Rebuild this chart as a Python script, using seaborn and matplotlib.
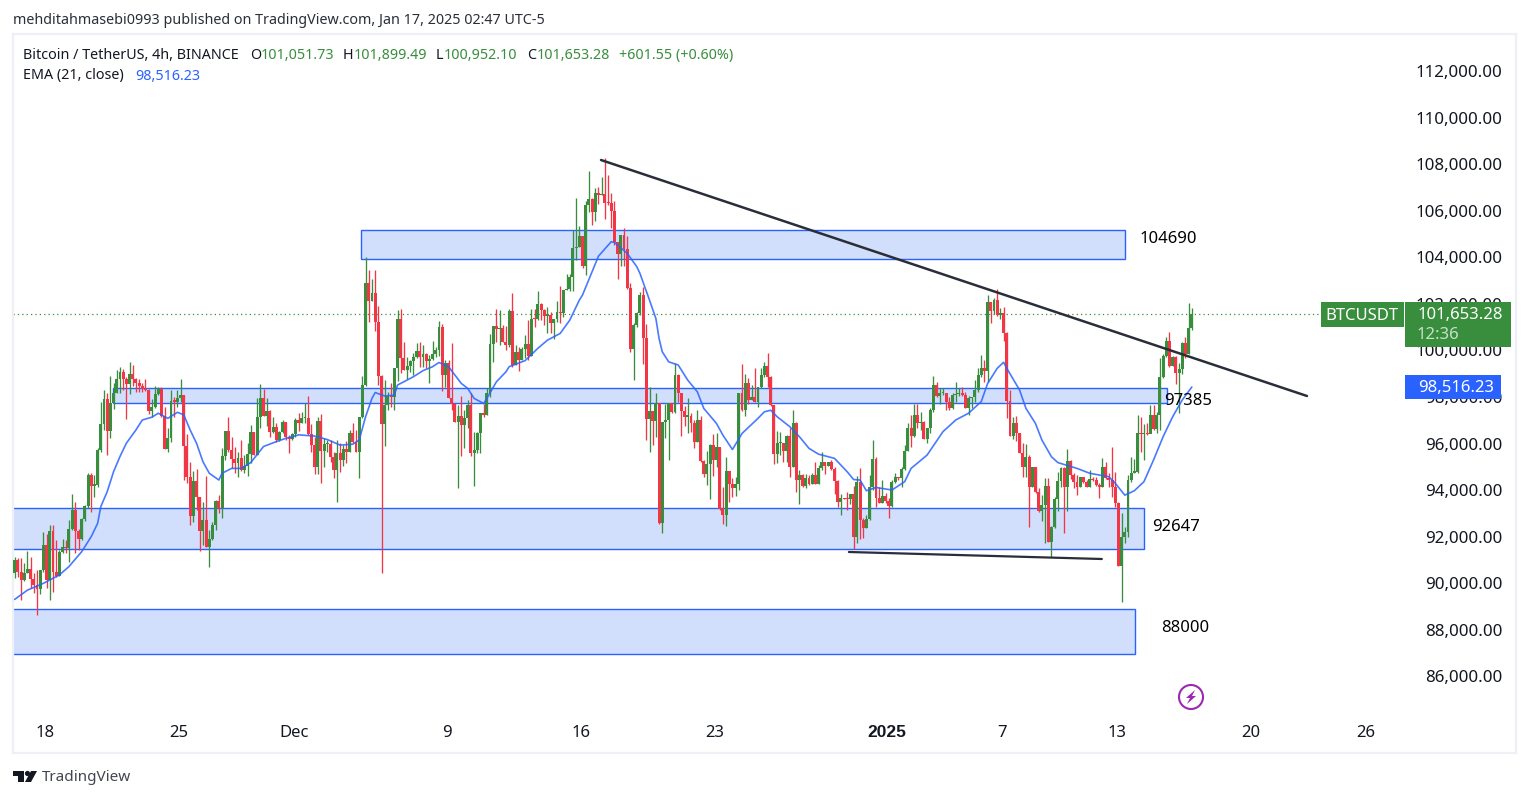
import numpy as np
import pandas as pd
import seaborn as sns
import matplotlib
matplotlib.use("Agg")
import matplotlib.pyplot as plt
from matplotlib.patches import Rectangle, Circle, Polygon
from matplotlib.transforms import Affine2D, ScaledTranslation

# ---- data (thousand USD, 4h bars) ----
first_open_k = 90.51
close_k = [
91.08,90.58,90.22,90.54,90.7,90.25,90.01,89.84,90.65,91.73,
90.22,92.33,90.58,90.4,91.41,91.63,91.6,92.4,93.23,92.35,
91.99,92.83,93.4,94.74,94.28,94.31,95.81,96.93,98.0,96.64,
97.82,98.28,98.86,99.16,98.85,98.65,99.08,98.86,98.68,98.56,
98.42,98.39,97.49,97.65,98.2,98.45,97.25,95.85,96.33,97.92,
97.89,98.03,98.18,95.98,94.67,92.99,94.48,93.78,92.35,92.8,
91.63,91.99,92.57,93.62,93.3,95.55,96.63,95.81,95.43,95.27,
95.45,94.95,95.12,95.63,96.57,95.6,97.22,98.03,97.29,97.49,
96.6,96.79,96.24,96.6,97.03,96.39,96.28,96.49,97.1,96.99,
97.17,97.17,96.49,96.02,95.09,97.05,95.78,96.05,96.05,95.52,
94.95,95.66,95.38,95.85,95.73,96.56,96.16,95.73,97.21,98.6,
102.97,102.21,102.54,101.29,99.0,96.92,97.74,98.13,98.07,99.32,
101.44,99.75,99.24,99.42,99.63,99.79,100.06,99.82,99.93,99.65,
99.7,99.93,100.1,101.11,99.03,99.57,98.05,97.78,97.02,97.27,
96.88,97.17,97.74,95.66,95.83,96.56,97.38,97.31,98.28,100.35,
101.14,101.0,101.06,100.46,100.32,101.78,99.46,100.0,99.67,100.13,
100.36,99.85,101.46,101.44,102.08,101.82,101.58,101.61,101.28,101.42,
101.72,101.68,102.68,102.71,103.23,104.47,104.55,105.0,103.71,106.34,
106.58,106.05,106.84,106.77,106.79,106.44,106.41,106.09,104.73,104.23,
105.05,104.43,102.78,100.15,101.18,101.68,102.47,100.63,97.14,97.48,
97.07,97.81,92.68,97.0,97.12,97.81,97.45,99.03,98.24,97.48,
97.24,97.28,96.95,96.14,97.09,95.35,94.77,95.2,96.02,95.38,
95.92,93.26,93.01,94.9,94.33,94.19,94.37,98.28,97.52,98.67,
97.98,98.08,97.88,98.5,99.03,99.42,98.96,97.74,95.63,96.09,
96.12,95.76,96.42,95.09,96.95,94.52,94.73,94.26,94.59,94.37,
94.73,94.37,95.02,95.28,95.12,95.28,95.0,94.49,93.56,93.73,
93.7,93.69,93.9,92.08,94.44,92.8,92.47,92.84,94.2,95.41,
93.76,93.55,93.83,93.63,93.4,94.43,94.66,94.59,95.0,95.78,
96.74,96.41,97.31,96.95,97.03,96.3,96.74,97.53,98.59,98.13,
98.24,98.26,97.89,97.63,98.17,98.2,98.24,98.17,97.63,98.03,
98.07,98.39,99.03,99.32,99.22,102.17,101.78,102.26,101.61,101.68,
100.82,97.93,96.41,96.95,96.53,95.67,95.09,95.52,94.23,95.06,
94.02,93.2,93.45,94.26,91.87,92.52,93.7,94.48,95.02,94.23,
95.34,94.73,94.45,94.23,94.66,94.45,94.23,94.56,94.52,94.3,
94.23,95.06,94.62,94.52,94.23,93.55,90.84,92.09,92.3,94.52,
94.83,94.85,96.53,96.48,96.53,96.5,97.31,96.71,97.31,98.96,
99.85,100.49,99.42,99.82,99.1,99.29,100.42,99.94,101.04,101.653,
]
high_k = [
91.23,91.16,91.16,90.94,91.49,91.2,90.51,90.65,90.65,92.3,
92.2,92.59,92.59,91.94,91.51,91.99,91.94,92.8,93.92,93.56,
92.4,92.87,93.45,94.84,94.84,94.74,95.88,97.86,98.39,98.28,
98.99,98.71,99.25,99.37,99.28,98.96,99.58,99.47,98.91,98.88,
98.68,98.85,98.42,97.99,98.56,98.53,98.5,97.67,96.76,98.39,
98.08,98.39,98.86,98.18,96.5,95.28,94.91,94.98,93.78,93.56,
94.69,92.37,92.73,93.66,93.88,95.88,96.63,97.22,96.39,95.93,
95.74,96.24,95.6,96.1,96.89,96.6,98.03,98.65,98.43,98.03,
97.53,97.22,96.96,96.64,97.1,97.03,96.46,96.53,97.17,97.39,
97.45,97.81,98.13,96.92,96.38,97.21,97.34,96.31,96.26,96.26,
95.73,96.24,96.09,96.02,96.21,96.69,96.95,96.67,97.24,98.99,
104.09,103.54,103.14,103.54,102.0,99.03,98.81,98.31,98.71,99.32,
101.82,101.89,100.43,99.82,99.67,99.96,100.42,100.43,100.32,99.99,
99.89,100.49,100.25,101.35,101.22,99.67,99.67,100.39,97.84,97.74,
98.13,97.52,97.95,98.27,96.59,96.59,97.41,97.78,98.46,100.78,
101.14,101.89,101.82,101.18,101.14,101.85,102.54,100.32,100.25,100.22,
100.75,101.39,101.89,101.87,102.64,102.11,101.85,101.97,101.75,101.46,
102.21,102.85,102.68,103.37,103.37,105.26,106.65,105.43,105.0,106.52,
107.8,106.65,107.08,107.12,107.55,108.34,107.63,106.87,106.52,104.76,
105.05,105.33,105.0,102.97,101.25,101.72,102.58,102.8,101.22,98.5,
97.5,98.24,97.85,97.02,97.78,97.81,97.81,99.53,99.07,98.27,
97.71,98.03,97.38,97.09,97.52,97.28,95.38,95.78,96.06,96.49,
96.52,95.95,94.23,95.49,94.9,94.59,94.63,98.28,99.5,99.07,
98.89,98.6,99.32,98.53,99.32,99.6,99.96,98.99,97.74,96.64,
96.59,96.09,96.45,96.74,97.52,97.02,94.95,94.8,94.77,94.73,
94.83,95.3,95.16,95.71,95.3,95.3,95.38,95.09,94.54,93.94,
93.73,94.01,93.94,94.26,94.69,95.02,92.9,93.01,94.73,96.24,
95.52,94.2,94.52,93.95,93.73,94.52,94.84,94.66,95.09,96.02,
96.95,97.31,97.79,97.79,97.46,97.06,96.77,97.6,98.99,98.75,
98.46,98.46,98.27,98.1,98.24,98.75,98.46,98.5,98.29,98.13,
98.1,98.82,99.32,99.89,99.68,102.47,102.19,102.33,102.72,101.9,
101.97,100.9,98.39,97.24,97.27,96.53,96.1,96.07,95.59,95.09,
95.09,94.16,93.87,94.59,94.59,92.54,93.8,94.88,95.09,95.06,
95.84,95.38,94.81,94.73,94.66,94.66,94.52,94.95,94.66,94.66,
94.38,95.45,95.31,94.81,95.95,94.88,93.59,93.09,92.51,94.73,
95.52,95.41,97.31,97.24,96.91,96.95,97.74,97.74,97.46,99.75,
99.94,100.68,100.9,99.85,99.85,99.53,100.47,100.68,102.14,101.899,
]
low_k = [
90.3,90.34,89.36,90.2,90.51,89.87,89.65,88.72,89.62,90.58,
89.87,89.36,89.69,90.34,90.4,91.37,91.37,91.01,92.37,91.37,
91.51,91.94,92.77,93.3,93.16,93.81,94.24,95.74,96.67,95.6,
96.31,97.56,98.25,98.25,98.39,97.16,98.22,98.56,98.32,98.32,
98.32,98.36,97.36,97.22,97.6,98.18,97.22,95.84,95.74,96.17,
97.22,97.67,97.89,94.52,94.41,92.59,92.73,93.23,91.49,91.73,
91.63,90.8,91.94,92.37,93.12,92.87,95.38,95.74,95.02,94.81,
94.67,94.92,94.84,94.69,95.24,95.6,95.6,96.74,97.27,96.82,
96.36,96.56,96.17,96.21,96.53,96.24,95.7,96.24,96.39,96.64,
96.95,96.95,96.45,95.73,94.8,94.77,94.4,95.09,95.73,95.3,
94.59,93.59,94.87,95.12,95.23,95.73,96.09,95.73,94.62,97.17,
98.57,101.32,102.21,100.93,98.6,90.53,95.99,97.52,97.67,97.52,
98.77,99.1,99.24,98.86,99.17,99.03,99.75,99.39,99.39,99.32,
98.67,99.67,99.82,99.85,98.36,98.5,98.03,97.52,97.02,94.16,
95.55,95.88,96.74,95.55,94.26,95.69,95.69,97.24,97.31,98.1,
99.6,100.46,100.32,100.43,100.1,100.25,99.36,99.46,99.22,99.67,
99.75,99.67,99.85,101.11,101.39,101.39,101.18,100.85,100.82,100.6,
101.32,101.25,101.54,102.68,102.64,102.65,103.97,104.55,103.64,103.33,
106.05,105.48,105.66,106.38,106.77,105.73,106.34,105.33,104.62,103.16,
103.71,103.71,102.75,100.03,98.81,101.11,101.61,99.5,96.24,95.73,
96.02,96.35,92.63,92.25,96.34,95.38,97.41,97.41,97.88,96.41,
96.84,96.52,96.59,95.88,96.14,95.3,94.63,94.3,93.7,94.69,
95.09,93.23,92.65,92.54,93.59,93.8,93.83,94.09,97.48,97.28,
97.78,97.98,97.88,97.67,98.46,98.96,98.5,97.7,95.2,95.26,
95.59,95.3,95.3,94.63,95.09,94.01,93.48,94.2,94.16,94.3,
94.37,94.37,94.37,94.95,94.8,95.12,94.95,93.94,93.37,93.01,
93.69,93.23,93.51,91.55,91.82,91.97,92.01,92.44,92.8,94.09,
93.35,93.52,93.52,93.52,92.9,93.37,94.38,94.52,94.23,94.95,
95.75,95.95,96.38,96.74,96.67,96.27,96.12,96.53,97.43,98.1,
97.79,98.17,97.53,97.53,97.56,97.86,98.13,98.13,97.6,97.31,
97.6,97.89,98.32,98.96,98.75,98.75,101.28,101.64,101.57,101.43,
100.51,97.17,96.41,96.27,96.2,95.67,94.66,94.66,92.51,94.23,
93.95,93.16,92.77,91.83,91.87,91.22,92.44,93.2,94.23,92.23,
93.2,94.56,94.16,93.87,94.2,94.41,94.2,94.2,94.49,94.26,
93.73,94.2,94.55,94.2,93.8,93.35,90.84,89.29,91.8,92.09,
94.45,94.81,94.81,95.73,95.38,96.45,96.53,96.67,96.53,96.67,
98.89,99.79,99.39,99.42,98.65,97.38,99.06,99.75,99.94,100.952,
]
ema_bar = [0,4,9,14,17,21,24,26,27,29,31,33,35,38,40,43,45,48,51,53,55,57,59,61,64,65,68,71,74,78,82,85,89,
94,98,102,106,108,110,112,113,116,119,120,125,128,131,133,136,140,142,144,147,148,151,154,155,160,164,167,171,174,177,178,181,183,
187,188,192,195,196,199,201,202,203,205,208,211,214,216,220,222,225,228,233,235,237,239,243,246,249,252,257,261,263,265,
267,270,275,279,281,286,291,295,299,303,305,308,310,311,315,317,320,322,325,327,333,337,343,345,348,351,354,357,360,363,366,369]
ema_k = [89.39,89.79,90.08,90.44,90.8,91.44,92.09,92.66,93.38,94.02,94.88,95.53,96.1,96.67,97.1,97.22,97.39,97.17,97.43,97.32,96.67,96.1,95.31,94.81,94.52,94.81,95.02,95.02,95.27,95.96,96.17,96.31,96.46,
96.41,96.26,96.02,96.06,96.24,97.24,98.03,98.28,98.13,98.17,98.6,98.96,99.22,99.39,99.57,99.39,98.67,98.46,98.03,97.81,98.03,98.74,99.17,99.39,99.65,100.18,100.53,100.82,101.39,102.25,102.47,103.47,104.14,
104.76,104.73,104.26,103.69,103.4,102.25,101.46,100.6,100.03,99.6,99.46,98.81,98.31,97.6,96.95,96.45,95.83,96.52,97.17,97.45,97.52,97.24,96.81,96.38,95.88,95.63,95.45,94.87,94.54,94.52,
94.06,94.2,94.09,94.45,95.02,95.59,96.6,97.1,97.39,97.89,98.67,99.32,99.58,99.32,98.39,97.6,96.95,96.24,95.52,95.27,95.02,94.81,94.66,94.38,93.87,94.06,94.45,95.38,96.38,97.24,97.96,98.516]

price_ticks = list(range(86000, 114000, 2000))
date_tick_bars = [9.5, 51.5, 87.5, 135.5, 177.5, 219.5, 273.5, 309.5, 345.5, 387.5, 423.5]
date_labels = ["18", "25", "Dec", "9", "16", "23", "2025", "7", "13", "20", "26"]

# zones: bar start, bar end, top, bottom (USD)
zone_start = [108.6, 30.8, -1, -1]
zone_end = [348.0, 361.2, 354.0, 351.2]
zone_top = [105264, 98474, 93318, 88977]
zone_bot = [104018, 97817, 91556, 87044]
zone_names = ["104690", "97385", "92647", "88000"]
zone_name_bar = [361.5, 367.7, 364.0, 367.0]
zone_name_price = [104875, 97930, 92500, 88170]
trend_bars = [183.8, 405.1]
trend_prices = [108272, 98131]
support_bars = [261.5, 340.8]
support_prices = [91427, 91126]

last_price = 101653.28
ema_last = 98516.23

W, H = 1529, 798
GREEN, RED, BLUE = "#388e3c", "#f23645", "#2962ff"
INK = "#131722"
sns.set_theme(style="white")
plt.rcParams["font.family"] = ["Noto Sans", "DejaVu Sans"]

close = np.array(close_k) * 1000
high = np.array(high_k) * 1000
low = np.array(low_k) * 1000
open_ = np.r_[first_open_k * 1000, close[:-1]]
bars = np.arange(len(close))
up = close >= open_
colors = np.where(up, GREEN, RED)

fig = plt.figure(figsize=(W / 100, H / 100), dpi=100, facecolor="white")
L, R, T, B = 13, 1516, 34, 753
ax = fig.add_axes([L / W, 1 - B / H, (R - L) / W, (B - T) / H])
ax.set_xlim((L - 14.7) / 3.19, (R - 14.7) / 3.19)
ax.set_ylim(100000 + (352.5 - B) / 23.27 * 1000, 100000 + (352.5 - T) / 23.27 * 1000)
for s in ax.spines.values():
    s.set_color("#eef0f6")
    s.set_linewidth(1.6)

for x0, x1, t, b in zip(zone_start, zone_end, zone_top, zone_bot):
    ax.add_patch(Rectangle((x0, b), x1 - x0, t - b, fc="#d1dffd", ec=BLUE, lw=1.0, zorder=1))

ax.vlines(bars, low, high, colors=colors, lw=0.95, zorder=2)
body_h = np.maximum(np.abs(close - open_), 60)
ax.bar(bars, body_h, bottom=np.minimum(close, open_), width=0.92,
       color=colors, linewidth=0, zorder=3)

ema_df = pd.DataFrame({"bar": ema_bar, "ema": np.array(ema_k) * 1000})
sns.lineplot(data=ema_df, x="bar", y="ema", color=BLUE, lw=1.2, alpha=0.85, ax=ax, zorder=4, sort=False)

ax.plot(trend_bars, trend_prices, color="#2a2e39", lw=1.8, zorder=5, solid_capstyle="round")
ax.plot(support_bars, support_prices, color="#2a2e39", lw=1.6, zorder=5, solid_capstyle="round")
ax.plot([ax.get_xlim()[0], (1320 - 14.7) / 3.19], [last_price] * 2, color=GREEN, lw=0.9,
        ls=(0, (1, 2.5)), zorder=2)

for name, xb, yp in zip(zone_names, zone_name_bar, zone_name_price):
    ax.text(xb, yp, name, ha="center", va="center", fontsize=12, color="#000000", zorder=6)

ax.set_xlabel("")
ax.set_ylabel("")
ax.set_xticks(date_tick_bars)
ax.set_xticklabels(date_labels)
ax.set_yticks(price_ticks)
ax.set_yticklabels([f"{p:,.2f}" for p in price_ticks])
ax.yaxis.tick_right()
ax.tick_params(axis="y", length=0, pad=-10, labelsize=12.2, labelcolor=INK)
lift = ScaledTranslation(0, 2 / 100, fig.dpi_scale_trans)
for lab in ax.get_yticklabels():
    lab.set_ha("right")
    lab.set_transform(lab.get_transform() + lift)
ax.tick_params(axis="x", length=0, pad=-20, labelsize=12, labelcolor=INK)
year_label = ax.get_xticklabels()[6]
year_label.set_fontfamily("Liberation Sans")
year_label.set_fontweight("bold")
year_label.set_fontsize(12.5)

# overlay in pixel coordinates (top-left origin)
px = Affine2D().scale(1, -1).translate(0, H)


def ftext(x, y, s, **kw):
    kw.setdefault("va", "center")
    kw.setdefault("color", INK)
    kw.setdefault("fontsize", 10.3)
    fig.text(x / W, 1 - y / H, s, **kw)


def frect(x0, y0, x1, y1, color):
    fig.add_artist(Rectangle((x0, y0), x1 - x0, y1 - y0, fc=color, ec="none", transform=px, zorder=2))


ftext(13, 20.5, "mehditahmasebi0993 published on TradingView.com, Jan 17, 2025 02:47 UTC-5", color="#2a2e39")
ftext(23, 55.5, "Bitcoin / TetherUS, 4h, BINANCE")
for x, s, c in [(250, "O", INK), (261, "101,051.73", GREEN), (343, "H", INK), (354, "101,899.49", GREEN),
                (436, "L", INK), (444, "100,952.10", GREEN), (527, "C", INK), (537, "101,653.28", GREEN),
                (619, "+601.55 (+0.60%)", GREEN)]:
    ftext(x, 55.5, s, color=c)
ftext(23, 76, "EMA (21, close)")
ftext(135, 76, "98,516.23", color=BLUE)

frect(1321, 302, 1404, 327, GREEN)
frect(1405, 302, 1511, 347, GREEN)
frect(1405, 375, 1501, 399, BLUE)
for (x, y, s, c, ha) in [(1362, 316, "BTCUSDT", "white", "center"), (1503, 315, "101,653.28", "white", "right"),
                         (1417, 335, "12:36", "#c8e0ca", "left"), (1494, 388, "98,516.23", "white", "right")]:
    t = fig.text(x / W, 1 - y / H, s, color=c, ha=ha, va="center", fontsize=12, zorder=3)

# bolt badge
fig.add_artist(Circle((1191, 697), 12, fc="none", ec="#9c27b0", lw=1.5, transform=px, zorder=3))
fig.add_artist(Polygon([(1195, 690), (1186, 698), (1190, 698), (1187, 704), (1196, 696), (1192, 696)],
                       closed=True, fc="#9c27b0", ec="none", transform=px, zorder=3))

# TradingView mark
logo = "#131722"
fig.add_artist(Polygon([(13, 771), (24, 771), (24, 782), (18, 782), (18, 776), (13, 776)], fc=logo, ec="none",
                       transform=px, zorder=3))
fig.add_artist(Circle((27.5, 773.5), 2.6, fc=logo, ec="none", transform=px, zorder=3))
fig.add_artist(Polygon([(31, 771), (37, 771), (31, 782), (25, 782)], fc=logo, ec="none", transform=px, zorder=3))
ftext(42, 777.5, "TradingView", fontsize=11, color="#434651")

fig.savefig("out.png", dpi=100, facecolor="white")
